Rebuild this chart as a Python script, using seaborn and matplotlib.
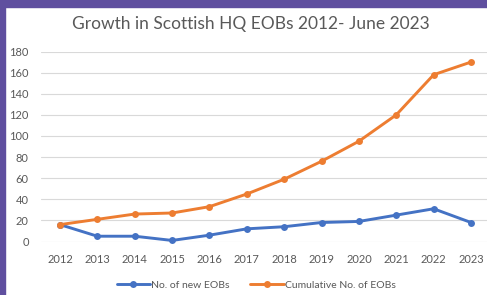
import matplotlib
matplotlib.use("Agg")
from matplotlib import pyplot as plt
import seaborn as sns
import pandas as pd

# values
years = [2012, 2013, 2014, 2015, 2016, 2017, 2018, 2019, 2020, 2021, 2022, 2023]
new_eobs = [16, 5, 5, 1, 6, 12, 14, 18, 19, 25, 31, 18]
cumulative_eobs = [16, 21, 26, 27, 33, 45, 59, 76, 95, 120, 158, 170]
series_names = ["No. of new EOBs", "Cumulative No. of EOBs"]
yticks = [0, 20, 40, 60, 80, 100, 120, 140, 160, 180]

df = pd.DataFrame({
    "Year": years * 2,
    "EOBs": new_eobs + cumulative_eobs,
    "Series": [series_names[0]] * len(years) + [series_names[1]] * len(years),
})

sns.set_style("white")
plt.rcParams["font.family"] = ["Lato", "DejaVu Sans"]

text_col = "#595959"
purple = "#5f4f9f"
palette = {series_names[0]: "#4472C4", series_names[1]: "#ED7D31"}

fig = plt.figure(figsize=(4.87, 2.95), dpi=100)
fig.patch.set_facecolor("white")

# purple frame on the top and left edges
fig.add_artist(plt.Rectangle((0, 1 - 7 / 295), 1, 7 / 295, transform=fig.transFigure,
                             color=purple, zorder=0))
fig.add_artist(plt.Rectangle((0, 0), 5 / 487, 1, transform=fig.transFigure,
                             color=purple, zorder=0))

ax = fig.add_axes([41.3 / 487, 1 - 241.5 / 295, 448.4 / 487, 190 / 295])
sns.lineplot(data=df, x="Year", y="EOBs", hue="Series", palette=palette,
             marker="o", markersize=5, markeredgewidth=0, linewidth=2.1,
             ax=ax, legend=False, clip_on=False, zorder=3)

ax.set_xlim(2011.5, 2023.5)
ax.set_ylim(0, 180)
ax.set_yticks(yticks)
ax.set_xticks(years)
ax.set_xticklabels([str(y) for y in years])
ax.grid(axis="y", color="#d9d9d9", linewidth=0.8)
ax.set_axisbelow(True)
for s in ax.spines.values():
    s.set_visible(False)
ax.tick_params(axis="both", length=0, labelsize=8, colors=text_col)
ax.tick_params(axis="y", pad=9)
ax.tick_params(axis="x", pad=9)
ax.set_xlabel("")
ax.set_ylabel("")

fig.text(251 / 487, 1 - 24 / 295, "Growth in Scottish HQ EOBs 2012- June 2023",
         ha="center", va="center", fontsize=12.5, color=text_col)

handles = [plt.Line2D([], [], color=palette[n], marker="o", markersize=5,
                      markeredgewidth=0, linewidth=2.1) for n in series_names]
leg = fig.legend(handles, series_names, loc="center", bbox_to_anchor=(256 / 487, 1 - 285 / 295),
                 ncol=2, frameon=False, fontsize=7.5, handlelength=3.2,
                 handletextpad=0.1, columnspacing=2.0, labelcolor=text_col)

fig.savefig("out.png", dpi=100)
